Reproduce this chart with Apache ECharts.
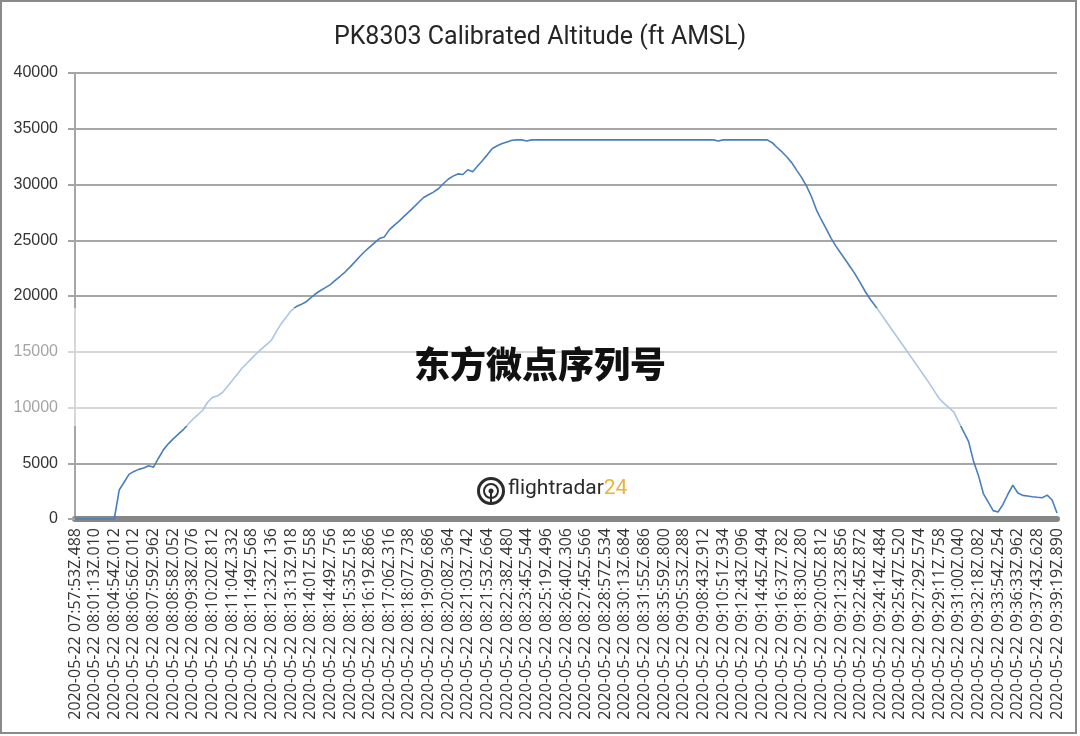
<!DOCTYPE html>
<html>
<head>
<meta charset="utf-8">
<script src="https://cdn.jsdelivr.net/npm/echarts@6/dist/echarts.min.js"></script>
<style>html,body{margin:0;padding:0;background:#fff}#c{width:1080px;height:736px}</style>
</head>
<body>
<div id="c"></div>
<script>
const titleText = 'PK8303 Calibrated Altitude (ft AMSL)';
const tickLabels = [
'2020-05-22 07:57:53Z.488','2020-05-22 08:01:13Z.010','2020-05-22 08:04:54Z.012','2020-05-22 08:06:56Z.012',
'2020-05-22 08:07:59Z.962','2020-05-22 08:08:58Z.052','2020-05-22 08:09:38Z.076','2020-05-22 08:10:20Z.812',
'2020-05-22 08:11:04Z.332','2020-05-22 08:11:49Z.568','2020-05-22 08:12:32Z.136','2020-05-22 08:13:13Z.918',
'2020-05-22 08:14:01Z.558','2020-05-22 08:14:49Z.756','2020-05-22 08:15:35Z.518','2020-05-22 08:16:19Z.866',
'2020-05-22 08:17:06Z.316','2020-05-22 08:18:07Z.738','2020-05-22 08:19:09Z.686','2020-05-22 08:20:08Z.364',
'2020-05-22 08:21:03Z.742','2020-05-22 08:21:53Z.664','2020-05-22 08:22:38Z.480','2020-05-22 08:23:45Z.544',
'2020-05-22 08:25:19Z.496','2020-05-22 08:26:40Z.306','2020-05-22 08:27:45Z.566','2020-05-22 08:28:57Z.534',
'2020-05-22 08:30:13Z.684','2020-05-22 08:31:55Z.686','2020-05-22 08:35:59Z.800','2020-05-22 09:05:53Z.288',
'2020-05-22 09:08:43Z.912','2020-05-22 09:10:51Z.934','2020-05-22 09:12:43Z.096','2020-05-22 09:14:45Z.494',
'2020-05-22 09:16:37Z.782','2020-05-22 09:18:30Z.280','2020-05-22 09:20:05Z.812','2020-05-22 09:21:23Z.856',
'2020-05-22 09:22:45Z.872','2020-05-22 09:24:14Z.484','2020-05-22 09:25:47Z.520','2020-05-22 09:27:29Z.574',
'2020-05-22 09:29:11Z.758','2020-05-22 09:31:00Z.040','2020-05-22 09:32:18Z.082','2020-05-22 09:33:54Z.254',
'2020-05-22 09:36:33Z.962','2020-05-22 09:37:43Z.628','2020-05-22 09:39:19Z.890'
];
const samplesPerLabel = 4;
const altitudeClimb = [
0,0,0,0,0,0,0,0,0,2600,
3300,4000,4270,4450,4570,4780,4650,5450,6200,6740,
7190,7590,7990,8480,8950,9330,9750,10470,10910,11030,
11330,11860,12410,12970,13520,13970,14410,14860,15250,15640,
16030,16800,17520,18090,18670,19030,19230,19460,19830,20200,
20490,20750,21020,21400,21770,22150,22590,23060,23540,23990,
24380,24770,25150,25300,25930,26330,26720,27140,27550,27970,
28410,28830,29080,29320,29620,30070,30470,30750,30950,30900,
31320,31150,31660,32150,32680,33230,33470,33670,33820,33970
];
const altitudeCruise = [
34000,34000,33900,34000,34000,34000,34000,34000,34000,34000,
34000,34000,34000,34000,34000,34000,34000,34000,34000,34000,
34000,34000,34000,34000,34000,34000,34000,34000,34000,34000,
34000,34000,34000,34000,34000,34000,34000,34000,34000,34000,
34000,33900,34000,34000,34000,34000,34000,34000,34000,34000,
34000,34000
];
const altitudeDescent = [
33750,33320,32920,32470,31940,31270,30620,29860,28900,27730,
26840,26010,25170,24450,23810,23190,22540,21880,21140,20360,
19690,19100,18490,17850,17220,16590,15960,15330,14700,14070,
13440,12810,12160,11490,10810,10370,9980,9590,8690,7810,
6940,5170,3910,2280,1520,750,630,1310,2220,3040,
2350,2120,2060,2000,1950,1910,2140,1700,540
];
const altitude = altitudeClimb.concat(altitudeCruise, altitudeDescent);
const categories = altitude.map((v, i) => (i % samplesPerLabel === 0 ? (tickLabels[i / samplesPerLabel] || '') : ''));

const chart = echarts.init(document.getElementById('c'), null, {renderer: 'canvas'});
chart.setOption({
  animation: false,
  backgroundColor: '#ffffff',
  title: {
    text: titleText, left: 'center', top: 20,
    textStyle: {fontFamily: 'Roboto', fontSize: 25, fontWeight: 'normal', color: '#262626'}
  },
  grid: {left: 75, right: 23, top: 73, bottom: 217, containLabel: false},
  xAxis: {
    type: 'category', data: categories, boundaryGap: false, offset: 3,
    axisLine: {show: true, lineStyle: {color: '#868686', width: 6}},
    axisTick: {show: false},
    axisLabel: {interval: 0, rotate: 90, margin: 6, fontFamily: 'Open Sans', fontSize: 16, color: '#333'},
    splitLine: {show: false}
  },
  yAxis: {
    type: 'value', min: 0, max: 40000, interval: 5000,
    axisLine: {show: true, lineStyle: {color: '#a6a6a6', width: 2}},
    axisTick: {show: true, length: 7, lineStyle: {color: '#a6a6a6', width: 2}},
    axisLabel: {margin: 17, fontFamily: 'Liberation Sans', fontSize: 16, color: '#333', formatter: v => String(v)},
    splitLine: {show: true, lineStyle: {color: '#a6a6a6', width: 2}}
  },
  series: [{
    type: 'line', data: altitude, showSymbol: false, symbol: 'none',
    lineStyle: {color: '#4a7ebb', width: 1.6}, z: 5
  }],
  graphic: [
    {type: 'rect', z: 100, shape: {x: 0, y: 308, width: 1080, height: 118}, style: {fill: 'rgba(255,255,255,0.55)'}},
    {type: 'text', z: 110, left: 'center', top: 346, style: {text: '东方微点序列号', font: '900 36px "Noto Sans CJK SC"', fill: '#111'}},
    {type: 'circle', z: 110, shape: {cx: 491, cy: 491, r: 12.5}, style: {fill: 'none', stroke: '#2b2b2b', lineWidth: 3}},
    {type: 'circle', z: 110, shape: {cx: 491, cy: 491, r: 7}, style: {fill: 'none', stroke: '#2b2b2b', lineWidth: 2}},
    {type: 'circle', z: 110, shape: {cx: 491, cy: 491, r: 2.5}, style: {fill: '#2b2b2b'}},
    {type: 'line', z: 110, shape: {x1: 491, y1: 491, x2: 491, y2: 503}, style: {stroke: '#2b2b2b', lineWidth: 2}},
    {type: 'text', z: 110, left: 508, top: 478, style: {
      text: '{a|flightradar}{b|24}',
      rich: {a: {fontFamily: 'Roboto', fontSize: 21, fill: '#2b2b2b'}, b: {fontFamily: 'Roboto', fontSize: 21, fill: '#e5b53a'}}
    }},
    {type: 'rect', z: 120, shape: {x: 1, y: 1, width: 1075, height: 732}, style: {fill: 'none', stroke: '#8a8a8a', lineWidth: 2}}
  ]
});
</script>
</body>
</html>
